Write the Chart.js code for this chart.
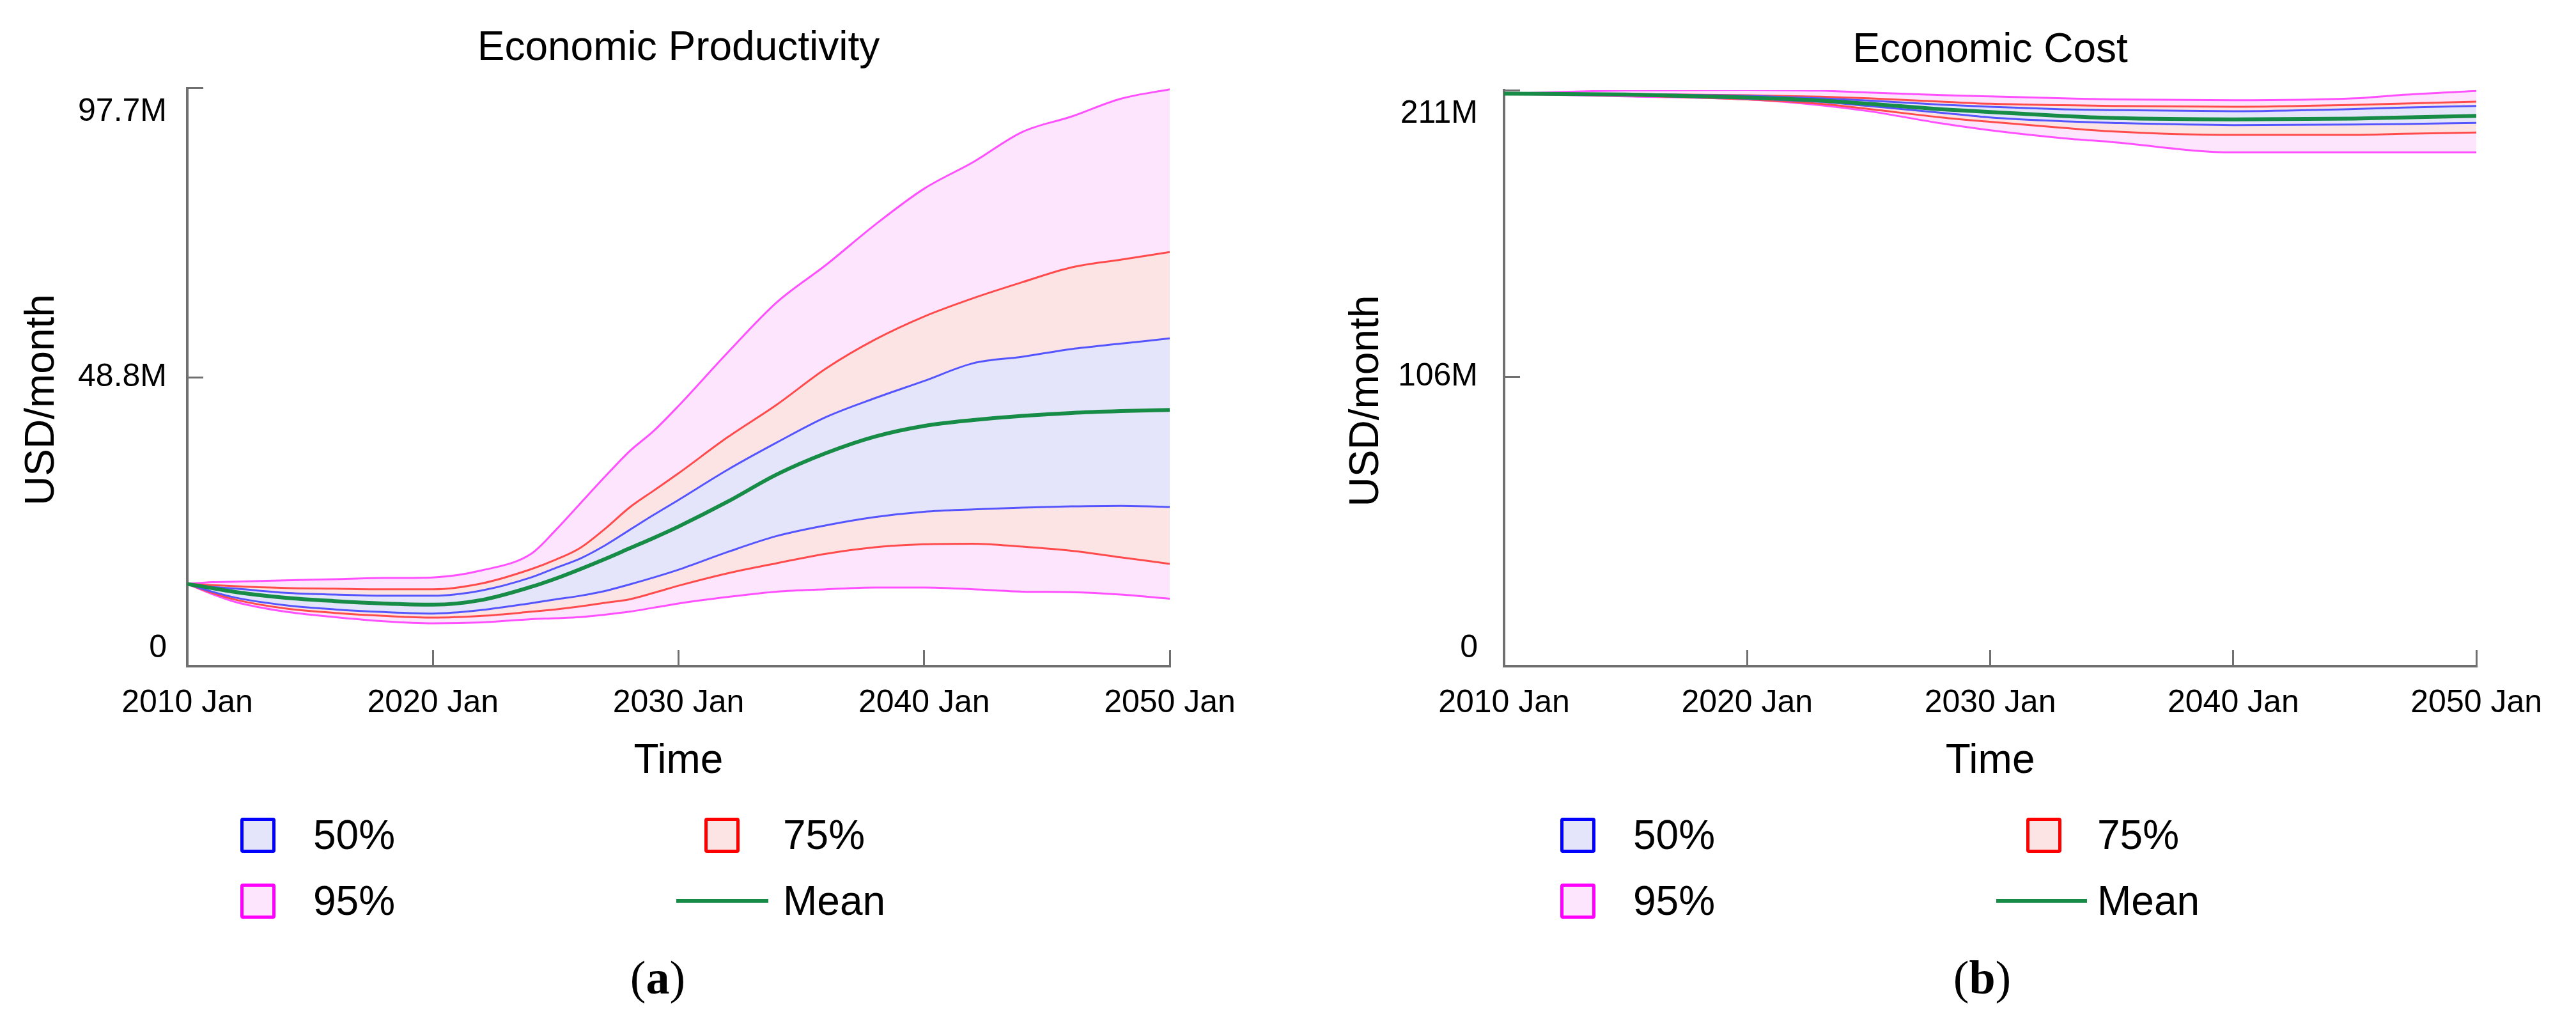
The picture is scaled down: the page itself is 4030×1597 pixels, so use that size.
<!DOCTYPE html>
<html>
<head>
<meta charset="utf-8">
<script src="https://cdn.jsdelivr.net/npm/chart.js@4.4.0/dist/chart.umd.min.js"></script>
<style>
body { margin:0; background:#fff; width:4030px; height:1597px; position:relative; overflow:hidden;
       font-family:"Liberation Sans", Arial, Helvetica, sans-serif; }
canvas { position:absolute; top:0; }
#chartA { left:0; }
#chartB { left:2015px; }
.lg-box { position:absolute; width:45px; height:45px; border:5px solid; border-radius:4px; }
.lg-line { position:absolute; height:6px; }
.lg-txt { position:absolute; font-size:64px; line-height:64px; color:#000; white-space:nowrap; }
.sub { position:absolute; font-family:"Liberation Serif", "Times New Roman", serif; font-size:74px; line-height:74px; transform:translateX(-50%); }
.sub b { font-weight:bold; }
</style>
</head>
<body>
<canvas id="chartA" width="2015" height="1270"></canvas>
<canvas id="chartB" width="2015" height="1270"></canvas>
<div class="sub" style="left:1029px; top:1492px;">(<b>a</b>)</div>
<div class="sub" style="left:3101px; top:1492px;">(<b>b</b>)</div>
<script>
// --- data (USD/month, in millions) ---
var yearsA = [2010, 2011, 2012, 2014, 2016, 2018, 2020, 2022, 2024, 2025, 2026, 2027, 2028, 2029, 2030, 2032, 2034, 2036, 2038, 2040, 2042, 2044, 2046, 2048, 2050];
var prodMean = [13.9, 13.2, 12.5, 11.55, 11.0, 10.6, 10.4, 11.2, 13.4, 14.8, 16.4, 18.1, 19.9, 21.7, 23.6, 27.8, 32.4, 36.0, 38.8, 40.6, 41.6, 42.3, 42.8, 43.1, 43.3];
var prod50Hi = [13.9, 13.4, 13.1, 12.4, 12.1, 11.9, 11.9, 12.8, 15.0, 16.6, 18.2, 20.4, 23.0, 25.6, 28.1, 33.2, 37.8, 42.1, 45.3, 48.2, 51.2, 52.3, 53.6, 54.5, 55.4];
var prod50Lo = [13.9, 12.6, 11.55, 10.3, 9.6, 9.15, 8.9, 9.5, 10.65, 11.3, 11.9, 12.7, 13.8, 15.0, 16.3, 19.3, 22.0, 23.8, 25.2, 26.1, 26.5, 26.8, 27.0, 27.1, 26.9];
var prod75Hi = [13.9, 13.7, 13.5, 13.2, 13.1, 13.0, 13.0, 14.0, 16.4, 18.0, 20.0, 23.2, 26.8, 29.7, 32.6, 38.7, 44.2, 50.3, 55.2, 59.1, 62.2, 64.9, 67.4, 68.7, 70.0];
var prod75Lo = [13.9, 12.4, 11.2, 9.75, 9.0, 8.5, 8.2, 8.5, 9.2, 9.6, 10.1, 10.7, 11.3, 12.4, 13.6, 15.7, 17.4, 19.0, 20.1, 20.6, 20.7, 20.2, 19.5, 18.4, 17.3];
var prod95Hi = [13.9, 14.2, 14.3, 14.5, 14.7, 14.9, 15.0, 16.2, 19.0, 23.0, 27.5, 32.0, 36.3, 39.8, 44.0, 53.0, 61.5, 67.8, 74.6, 80.7, 85.2, 90.3, 92.9, 95.9, 97.5];
var prod95Lo = [13.9, 12.2, 10.8, 9.2, 8.3, 7.6, 7.25, 7.4, 7.95, 8.1, 8.3, 8.7, 9.2, 9.9, 10.6, 11.7, 12.6, 13.0, 13.3, 13.3, 13.0, 12.6, 12.5, 12.1, 11.4];

var yearsB = [2010, 2015, 2020, 2023, 2025, 2028, 2030, 2033, 2035, 2040, 2045, 2047, 2050];
var costMean = [209.7, 209.4, 208.3, 207.2, 206.0, 204.0, 203.0, 201.5, 200.8, 200.3, 200.6, 201.0, 201.6];
var cost50Hi = [209.7, 209.5, 208.9, 208.0, 207.2, 205.7, 204.9, 204.0, 203.7, 203.3, 204.1, 204.6, 205.2];
var cost50Lo = [209.7, 209.2, 207.9, 206.7, 205.2, 202.7, 201.0, 199.6, 199.0, 198.2, 198.4, 198.6, 199.0];
var cost75Hi = [209.7, 209.6, 209.1, 208.6, 208.0, 206.8, 206.0, 205.5, 205.2, 204.9, 205.6, 206.1, 206.8];
var cost75Lo = [209.7, 209.0, 207.6, 206.0, 204.1, 201.0, 199.4, 197.2, 195.9, 194.6, 194.6, 195.0, 195.5];
var cost95Hi = [209.7, 210.9, 211.1, 210.8, 210.1, 209.2, 208.7, 208.0, 207.6, 207.3, 208.0, 209.3, 210.7];
var cost95Lo = [209.7, 208.7, 207.6, 205.5, 203.3, 198.8, 196.3, 193.4, 192.0, 188.2, 188.2, 188.2, 188.2];

var xTicks = [2010, 2020, 2030, 2040, 2050];
var yTicksA = [0, 48.8, 97.7];
var yLabelsA = ['0', '48.8M', '97.7M'];
var yTicksB = [0, 106, 211];
var yLabelsB = ['0', '106M', '211M'];
var legendLabels = ['50%', '75%', '95%', 'Mean'];

// colours
var blueLine = 'rgb(85,85,255)', blueFill = 'rgb(228,228,250)';
var redLine = 'rgb(255,75,75)', redFill = 'rgb(253,228,228)';
var magLine = 'rgb(255,80,255)', magFill = 'rgb(253,229,253)';
var greenLine = 'rgb(23,140,70)';
var axisGrey = '#707070';

Chart.defaults.font.family = '"Liberation Sans", Arial, Helvetica, sans-serif';
Chart.defaults.color = '#000';

function pts(xs, ys) {
	return xs.map(function(x, i){ return {x: x, y: ys[i]}; });
}

function band(xs, ys, color, fillTo, fillColor, width) {
	return {
		data: pts(xs, ys),
		borderColor: color,
		backgroundColor: fillColor || 'transparent',
		borderWidth: width || 3,
		fill: fillTo === undefined ? false : fillTo,
		pointRadius: 0,
		cubicInterpolationMode: 'monotone'
	};
}

function makeChart(id, o) {
	var ctx = document.getElementById(id);
	var nTicks = o.yTicks.length;
	return new Chart(ctx, {
		type: 'line',
		data: {
			datasets: [
				band(o.xs, o.mean, greenLine, false, null, 6),
				band(o.xs, o.hi50, blueLine, '+1', blueFill),
				band(o.xs, o.lo50, blueLine),
				band(o.xs, o.hi75, redLine, '+1', redFill),
				band(o.xs, o.lo75, redLine),
				band(o.xs, o.hi95, magLine, '+1', magFill),
				band(o.xs, o.lo95, magLine)
			]
		},
		options: {
			responsive: false,
			animation: false,
			layout: { padding: { left: 0, right: o.padRight, top: 0, bottom: 0 } },
			plugins: {
				legend: { display: false },
				tooltip: { enabled: false },
				filler: { drawTime: 'beforeDatasetsDraw' },
				title: {
					display: true, text: o.title, fullSize: false, color: '#000',
					font: { size: 64, weight: 'normal' },
					padding: { top: 38, bottom: 23 }
				}
			},
			scales: {
				x: {
					type: 'linear', min: 2010, max: 2050,
					afterBuildTicks: function(s){ s.ticks = xTicks.map(function(v){ return {value: v}; }); },
					afterFit: function(s){ s.height = 228; },
					ticks: {
						autoSkip: false, maxRotation: 0, padding: 53, color: '#000',
						font: { size: 50, lineHeight: 1.2 },
						callback: function(v){ return v + ' Jan'; }
					},
					grid: { drawOnChartArea: false, tickLength: -25, lineWidth: 3, color: axisGrey },
					border: { color: axisGrey, width: 4 },
					title: { display: true, text: 'Time', color: '#000', font: { size: 64 }, padding: { top: 0, bottom: 40 } }
				},
				y: {
					min: 0, max: o.yMax,
					afterBuildTicks: function(s){ s.ticks = o.yTicks.map(function(v){ return {value: v}; }); },
					afterFit: function(s){ s.width = o.yWidth; },
					ticks: {
						padding: o.yPad, color: '#000',
						font: function(c){
							var lh = c.index === 0 ? 1.1 : (c.index === nTicks - 1 ? 1.5 : 1.2);
							return { size: 50, lineHeight: lh };
						},
						callback: function(v, i){
							if (i === 0) return [o.yLabels[i], ''];
							if (i === nTicks - 1) return ['', o.yLabels[i]];
							return o.yLabels[i];
						}
					},
					grid: { drawOnChartArea: false, tickLength: -25, lineWidth: 3, color: axisGrey },
					border: { color: axisGrey, width: 4 },
					title: { display: true, text: 'USD/month    ', color: '#000', font: { size: 64 }, padding: { top: o.yTitlePad, bottom: 0 } }
				}
			}
		}
	});
}

makeChart('chartA', {
	title: 'Economic Productivity', xs: yearsA,
	mean: prodMean, hi50: prod50Hi, lo50: prod50Lo, hi75: prod75Hi, lo75: prod75Lo, hi95: prod95Hi, lo95: prod95Lo,
	yMax: 97.7, yTicks: yTicksA, yLabels: yLabelsA,
	yWidth: 293, yPad: 57, yTitlePad: 28, padRight: 185
});

makeChart('chartB', {
	title: 'Economic Cost', xs: yearsB,
	mean: costMean, hi50: cost50Hi, lo50: cost50Lo, hi75: cost75Hi, lo75: cost75Lo, hi95: cost95Hi, lo95: cost95Lo,
	yMax: 211, yTicks: yTicksB, yLabels: yLabelsB,
	yWidth: 338, yPad: 66, yTitlePad: 85, padRight: 130
});

// legend (html), 2 x 2 grid under each chart
var legendSwatch = [
	{ kind: 'box', border: '#0000ff', fill: blueFill },
	{ kind: 'box', border: '#ff0000', fill: redFill },
	{ kind: 'box', border: '#ff00ff', fill: magFill },
	{ kind: 'line', color: greenLine }
];
function addLegend(col1Box, col1Txt, col2Box, col2Txt, lineLeft, lineW) {
	var rows = [1306, 1306, 1409, 1409];
	var boxX = [col1Box, col2Box, col1Box, lineLeft];
	var txtX = [col1Txt, col2Txt, col1Txt, col2Txt];
	for (var i = 0; i < legendLabels.length; i++) {
		var sw = legendSwatch[i];
		var el = document.createElement('div');
		if (sw.kind === 'box') {
			el.className = 'lg-box';
			el.style.left = boxX[i] + 'px';
			el.style.top = (rows[i] - 27) + 'px';
			el.style.borderColor = sw.border;
			el.style.background = sw.fill;
		} else {
			el.className = 'lg-line';
			el.style.left = boxX[i] + 'px';
			el.style.top = (rows[i] - 3) + 'px';
			el.style.width = lineW + 'px';
			el.style.background = sw.color;
		}
		document.body.appendChild(el);
		var t = document.createElement('div');
		t.className = 'lg-txt';
		t.textContent = legendLabels[i];
		t.style.left = txtX[i] + 'px';
		t.style.top = (rows[i] - 32) + 'px';
		document.body.appendChild(t);
	}
}
addLegend(376, 490, 1102, 1225, 1058, 144);
addLegend(2441, 2555, 3170, 3281, 3123, 142);
</script>
</body>
</html>
